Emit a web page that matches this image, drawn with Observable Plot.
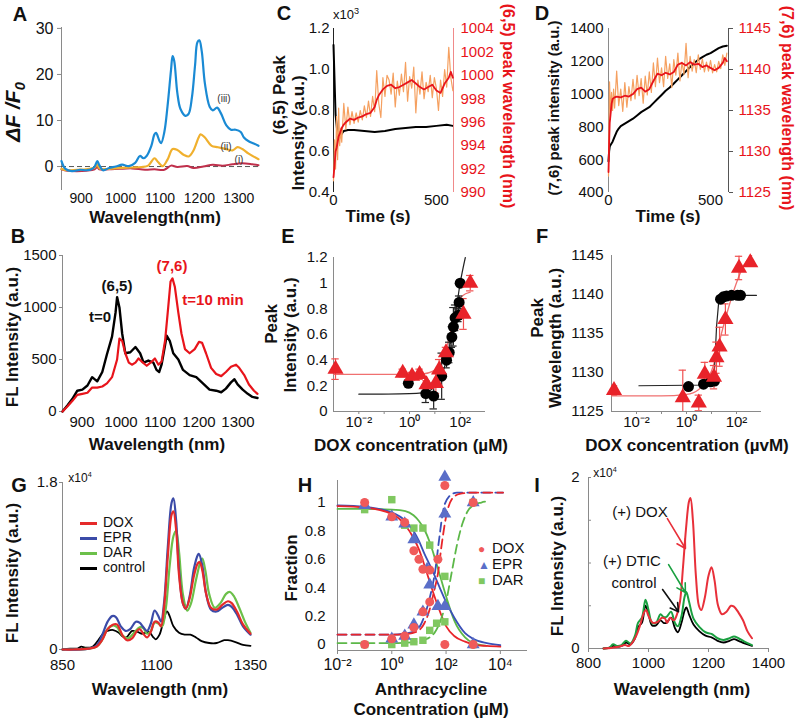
<!DOCTYPE html>
<html><head><meta charset="utf-8">
<script src="https://cdn.jsdelivr.net/npm/d3@7"></script>
<script src="https://cdn.jsdelivr.net/npm/@observablehq/plot@0.6"></script>
<style>
body{margin:0;background:#fff;}
#root{position:relative;width:800px;height:720px;overflow:hidden;font-family:"Liberation Sans",Arial,Helvetica,sans-serif;color:#111;}
.lbl{position:absolute;white-space:nowrap;line-height:1;}
</style></head><body><div id="root"></div>
<script>
// ---------------- DATA ----------------
// Panel A: ΔF/F0 spectra
const aWaveIII = [850,860,876,897,913,926,934,941,946,955,971,988,1004,1021,1037,1049,1058,1066,1078,1086,1090,1099,1103,1111,1119,1128,1132,1136,1144,1152,1165,1173,1181,1189,1195,1200,1206,1214,1226,1234,1245,1255,1268,1280,1292,1305,1313,1325,1338,1350];
const aIII = [1.2,-0.5,-1.0,-0.7,-0.8,-0.6,0,1.2,0.3,-0.8,-0.3,0,0.4,0.1,0.8,2.3,1.8,2.3,4.5,7,7.3,5.5,5.1,7.5,13,21,24,23,16,12.5,11,11.5,15,22,27,27.4,25,18,13,12.2,12.8,11.5,9,8,8,7.5,6.3,5.5,5,4.5];
const aWaveII = [850,864,889,913,934,941,946,971,996,1029,1053,1070,1086,1095,1107,1119,1132,1144,1161,1173,1185,1198,1203,1214,1231,1247,1268,1284,1297,1309,1325,1350];
const aII = [-0.5,-0.8,-0.7,-0.6,-0.2,0.5,-0.4,-0.5,-0.3,-0.2,-0.1,0.2,1.8,1.0,0.1,1.5,3.8,3.6,2.5,2.2,3.5,6.3,7.0,6.3,4.5,4.2,3.8,3.5,4.2,3.8,2.8,1.6];
const aWaveI = [850,864,889,913,934,941,946,971,996,1029,1062,1086,1111,1128,1144,1169,1185,1210,1234,1259,1284,1309,1334,1350];
const aI = [-0.6,-0.9,-1.0,-0.9,-0.6,-0.1,-0.6,-0.6,-0.5,-0.4,-0.7,-0.6,-0.7,0.2,-0.1,0.1,-0.3,0.0,0.4,0.2,0.5,0.7,0.5,0.3];

// Panel B: FL spectra t=0 and t=10 min
const bWave0 = [850,863,875,888,901,914,926,939,952,964,977,986,990,996,1003,1011,1024,1037,1049,1058,1070,1083,1091,1098,1104,1113,1117,1125,1134,1147,1159,1176,1193,1210,1227,1244,1257,1269,1282,1291,1299,1312,1325,1337,1350];
const bT0 = [0,60,120,200,210,250,330,290,380,550,720,950,1100,1000,750,560,570,620,560,470,490,470,400,380,450,640,730,680,560,500,400,350,330,270,210,200,185,220,280,310,260,210,170,140,130];
const bWave10 = [850,863,875,888,901,914,926,939,952,964,977,990,996,1003,1011,1020,1028,1037,1045,1053,1066,1079,1087,1096,1104,1113,1121,1127,1132,1138,1147,1155,1164,1176,1189,1200,1208,1218,1231,1244,1257,1269,1282,1295,1303,1316,1328,1341,1350];
const bT10 = [0,50,100,160,170,180,230,230,240,270,330,500,700,680,560,470,450,470,510,480,440,480,510,450,480,680,1000,1250,1280,1200,950,750,600,560,600,670,660,560,420,360,340,380,430,450,420,350,260,200,170];

// Panel C: (6,5) intensity (x10^3) and wavelength vs time
const cTimeI = [0,5,10,18,25,35,50,70,100,150,200,250,300,350,400,450,500,550,580];
const cIntensity = [1.12,0.95,0.78,0.70,0.66,0.68,0.70,0.705,0.705,0.70,0.695,0.70,0.71,0.715,0.72,0.72,0.725,0.73,0.725];
const cTimeW = [0,5,10,15,20,25,30,40,50,60,80,100,120,140,160,180,200,210,220,240,260,280,300,320,340,360,380,400,420,440,460,480,500,520,540,560,570,580];
const cWaveSmooth = [991.3,992.3,993.5,993.8,994.3,994.8,995.0,995.5,995.8,996.0,996.3,996.2,996.4,996.5,996.7,996.8,997.3,997.9,998.3,998.8,999.1,999.2,998.9,999.0,999.2,999.4,999.6,999.3,999.0,998.8,999.0,999.2,998.7,998.5,999.3,999.8,1000.3,999.8];
const cTimeRaw = [0,5,10,15,20,25,30,35,40,50,60,70,80,90,100,110,120,130,140,150,160,170,180,190,200,210,220,230,240,250,260,270,280,290,300,310,320,330,340,350,360,370,380,390,400,410,420,430,440,450,460,470,480,490,500,510,520,530,540,550,560,570,580];
const cWaveRaw = [991.0,994.5,992.0,996.5,992.8,997.2,994.0,995.5,994.3,997.6,995.4,997.3,995.8,996.9,995.9,996.8,996.0,997.0,996.2,997.4,996.4,997.8,996.5,998.2,996.9,1000.4,997.6,996.4,999.8,998.2,1000.0,999.6,998.4,1000.2,997.3,999.5,998.3,1000.1,998.6,1001.1,997.8,999.9,998.9,1000.7,996.8,999.6,998.4,1000.3,998.0,999.4,998.6,1000.0,998.1,999.8,998.9,997.0,999.6,998.2,1000.5,999.0,1002.4,999.8,998.7];

// Panel D: (7,6) intensity and wavelength vs time
const dTimeI = [0,3,6,10,20,30,40,50,60,80,100,120,140,160,180,200,220,240,260,280,300,320,340,360,380,400,420,440,460,480,500,520,540,560,580];
const dIntensity = [590,650,680,690,710,740,770,790,805,820,835,850,870,890,905,920,945,970,995,1020,1040,1065,1090,1115,1140,1165,1190,1210,1225,1240,1250,1265,1280,1290,1295];
const dTimeW = [0,3,6,10,15,20,30,40,60,80,100,120,140,160,180,200,220,240,260,280,300,320,340,360,380,400,420,440,460,480,500,520,540,560,570,580];
const dWaveSmooth = [1127.5,1131,1133.5,1134.5,1135.8,1136.4,1136.6,1136.7,1136.6,1136.8,1136.7,1137.0,1137.6,1137.8,1137.3,1137.6,1138.6,1139.5,1139.3,1139.6,1139.4,1139.7,1140.6,1140.8,1140.5,1140.9,1140.6,1140.7,1140.3,1140.5,1140.2,1139.9,1140.2,1140.8,1141.4,1141.0];
const dTimeRaw = [0,5,10,15,20,25,30,40,50,60,70,80,90,100,110,120,130,140,150,160,170,180,190,200,210,220,230,240,250,260,270,280,290,300,310,320,330,340,350,360,370,380,390,400,410,420,430,440,450,460,470,480,490,500,510,520,530,540,550,560,570,580];
const dWaveRaw = [1127,1138.5,1134.8,1137.2,1135.0,1137.6,1135.3,1139.8,1135.6,1137.6,1134.9,1138.4,1135.4,1137.9,1136.2,1138.8,1136.4,1139.3,1136.8,1138.9,1135.9,1139.2,1136.9,1139.7,1137.2,1140.8,1137.9,1141.4,1138.4,1140.2,1137.9,1141.6,1138.9,1140.7,1137.8,1141.2,1139.3,1142.0,1138.6,1140.9,1139.4,1143.2,1139.0,1141.6,1139.8,1141.2,1139.6,1141.8,1140.0,1141.3,1139.7,1140.9,1139.8,1141.1,1139.6,1140.6,1139.7,1141.0,1140.1,1141.8,1140.5,1142.0];

// Panel E: peak intensity vs DOX concentration
const eBlackConc = [0.9,4.4,9,18.6,29,37,47,54,63,85,91,100];
const eBlackVal = [0.22,0.14,0.12,0.275,0.40,0.46,0.58,0.66,0.73,0.75,0.85,1.0];
const eBlackErr = [0,0.07,0.1,0.18,0.06,0.08,0.08,0.15,0.1,0.05,0.05,0];
const eRedConc = [0.0012,0.54,1.26,2.5,4.7,11,14.8,27.5,135,250];
const eRedVal = [0.33,0.30,0.275,0.29,0.21,0.22,0.325,0.46,0.76,1.0];
const eRedErr = [0.08,0.03,0.03,0.04,0.03,0.08,0.08,0.04,0.12,0.06];
const eRedFitConc = [0.001,1,3,10,20,40,70,120,250];
const eRedFitVal = [0.29,0.29,0.292,0.32,0.41,0.60,0.80,0.90,0.93];
const eBlackFitConc = [0.01,1,3,6,10,20,40,70,100,160];
const eBlackFitVal = [0.135,0.14,0.145,0.16,0.20,0.30,0.52,0.80,1.0,1.2];

// Panel F: peak wavelength vs DOX concentration
const fBlackConc = [1.2,4.8,9.1,13.2,23,30,40,63,110,145];
const fBlackVal = [1128.2,1128.5,1128.8,1128.9,1139.4,1139.7,1139.8,1139.9,1139.9,1139.9];
const fRedConc = [0.00126,0.71,3.1,5.4,12.6,15.8,21,36,126,355];
const fRedVal = [1127.7,1126.8,1126.1,1129.8,1129.4,1131.9,1133.3,1136.8,1143.4,1144.1];
const fRedErr = [0.6,3.5,1.0,1.5,1.5,2.0,2.5,2.0,1.5,0];
const fRedFitConc = [0.001,0.1,1,3,6,10,15,25,50,100,200,400];
const fRedFitVal = [1127.0,1127.0,1127.2,1127.8,1128.8,1130.2,1132,1135,1138.5,1141.5,1143.8,1145];
const fBlackFitConc = [0.0125,10,13,16,20,30,630];
const fBlackFitVal = [1128.3,1128.4,1130,1136,1139.5,1139.9,1139.9];

// Panel G: FL spectra (x10^4) with anthracyclines
const gWaveDox = [850,880,920,940,955,970,985,995,1010,1022,1035,1048,1055,1065,1075,1085,1095,1105,1112,1120,1130,1140,1145,1152,1160,1170,1178,1188,1200,1210,1215,1222,1232,1245,1260,1275,1290,1300,1315,1330,1350];
const gDox = [0,0,0.01,0.03,0.1,0.22,0.27,0.27,0.15,0.1,0.12,0.2,0.22,0.17,0.13,0.19,0.3,0.29,0.25,0.45,1.0,1.45,1.49,1.3,0.8,0.5,0.44,0.55,0.8,0.93,0.94,0.85,0.6,0.45,0.43,0.48,0.52,0.5,0.4,0.27,0.17];
const gWaveEpr = [850,920,940,955,970,982,992,1005,1018,1030,1045,1055,1065,1075,1085,1095,1105,1112,1120,1130,1140,1145,1152,1160,1170,1178,1188,1200,1210,1213,1222,1232,1245,1260,1275,1290,1300,1315,1330,1350];
const gEpr = [0,0.01,0.04,0.15,0.3,0.36,0.35,0.25,0.2,0.22,0.3,0.29,0.24,0.2,0.28,0.42,0.36,0.3,0.5,1.1,1.58,1.63,1.4,0.85,0.5,0.44,0.57,0.88,1.02,1.03,0.9,0.6,0.43,0.41,0.45,0.48,0.46,0.37,0.25,0.16];
const gWaveDar = [850,920,940,955,970,985,995,1010,1025,1040,1055,1065,1075,1085,1095,1105,1115,1125,1135,1145,1152,1160,1170,1182,1192,1205,1218,1222,1230,1240,1255,1270,1285,1295,1305,1320,1335,1350];
const gDar = [0,0.01,0.03,0.1,0.22,0.26,0.24,0.15,0.12,0.18,0.24,0.23,0.17,0.2,0.29,0.28,0.25,0.45,0.9,1.22,1.28,1.05,0.6,0.42,0.5,0.75,0.96,0.98,0.85,0.6,0.45,0.5,0.6,0.62,0.58,0.45,0.3,0.18];
const gWaveCtl = [850,870,890,900,910,930,945,958,970,985,1000,1010,1020,1035,1050,1060,1070,1080,1090,1098,1108,1118,1128,1135,1145,1160,1175,1190,1205,1220,1240,1260,1280,1290,1310,1330,1350];
const gCtl = [0,0.01,0.01,0.03,0.02,0.03,0.1,0.17,0.2,0.21,0.18,0.14,0.13,0.2,0.19,0.17,0.18,0.19,0.14,0.11,0.16,0.3,0.41,0.36,0.25,0.18,0.16,0.16,0.13,0.09,0.07,0.07,0.1,0.1,0.08,0.05,0.04];
const gSeries = ["DOX","EPR","DAR","control"];

// Panel H: fraction vs anthracycline concentration
const hDox = [[0.1,1.0],[0.1,0.0],[1,0.9],[1,0.04],[3,0.86],[3,0.06],[6.5,0.66],[6.5,0.12],[10,0.6],[14,0.53],[14,0.23],[25,0.3],[25,0.525],[50,0.6],[90,0.0],[90,1.12],[1000,1.0],[1000,0.0]];
const hEpr = [[0.1,0.98],[1,0.9],[1,0.04],[3,0.85],[3,0.06],[6.5,0.74],[6.5,0.14],[14,0.23],[20,0.53],[25,0.42],[50,0.27],[90,0.27],[90,0.92],[90,1.18],[1000,1.0],[1000,0.0]];
const hDar = [[0.1,0.95],[0.1,0.0],[1,1.02],[1,0.0],[3,0.84],[3,0.01],[6.5,0.82],[6.5,0.02],[14,0.82],[14,0.03],[25,0.70],[25,0.1],[45,0.15],[90,0.48],[90,0.16],[1000,1.0],[1000,0.0]];
const hDoxFitLx = [-2,-1,0,0.5,0.8,1,1.2,1.3,1.5,1.7,2,2.3,2.7,3,3.5,4];
const hDoxFit = [0.975,0.965,0.92,0.84,0.75,0.67,0.56,0.5,0.38,0.27,0.13,0.06,0.02,0.0,-0.01,-0.015];
const hEprFitLx = [-2,-1,0,0.5,0.8,1,1.2,1.5,1.7,2,2.3,2.7,3,3.5,4];
const hEprFit = [0.98,0.97,0.93,0.87,0.8,0.73,0.64,0.52,0.43,0.3,0.19,0.08,0.04,0.01,-0.005];
const hDarFitLx = [-2,-1,0,0.5,0.8,1,1.2,1.4,1.6,1.8,2,2.3,2.7,3,3.5];
const hDarFit = [0.955,0.955,0.95,0.94,0.91,0.87,0.81,0.72,0.6,0.47,0.34,0.17,0.05,0.01,-0.01];
const hDoxDashLx = [-2,0,0.6,1,1.2,1.4,1.55,1.7,1.85,2,2.2,2.5,3,4.1];
const hDoxDash = [0.07,0.07,0.075,0.1,0.15,0.25,0.37,0.5,0.72,0.9,1.02,1.06,1.07,1.07];
const hEprDashLx = [-2,0,0.6,1,1.2,1.4,1.6,1.75,1.9,2.1,2.4,3,4.1];
const hEprDash = [0.07,0.07,0.08,0.12,0.2,0.33,0.52,0.75,0.95,1.04,1.07,1.07,1.07];
const hDarDashLx = [-2,0,1,1.3,1.6,1.8,2.0,2.2,2.4,2.6,2.8,3.0,3.3,3.6];
const hDarDash = [0.01,0.01,0.02,0.04,0.09,0.17,0.3,0.5,0.7,0.85,0.94,0.98,1.0,1.01];

// Panel I: FL spectra (x10^4) with DOX / DTIC
const iWaveDox = [850,880,900,922,935,955,970,985,992,1000,1015,1030,1045,1055,1062,1072,1085,1095,1105,1115,1125,1135,1140,1148,1158,1168,1176,1188,1200,1210,1220,1232,1245,1260,1275,1285,1300,1315,1330,1345];
const iDox = [0,0.01,0.02,0.04,0.03,0.12,0.25,0.42,0.45,0.38,0.3,0.31,0.36,0.35,0.3,0.36,0.33,0.4,0.55,0.95,1.4,1.72,1.76,1.5,0.85,0.5,0.45,0.6,0.85,0.95,0.8,0.5,0.4,0.43,0.5,0.49,0.42,0.33,0.2,0.12];
const iWaveOther = [850,870,882,895,910,925,940,955,965,978,990,1000,1012,1025,1040,1050,1060,1075,1088,1098,1110,1120,1126,1135,1150,1170,1190,1210,1230,1250,1270,1285,1300,1320,1345];
const iDtic = [0,0.01,0.05,0.03,0.04,0.09,0.06,0.15,0.3,0.36,0.57,0.45,0.3,0.3,0.4,0.37,0.37,0.43,0.3,0.26,0.38,0.6,0.66,0.55,0.35,0.25,0.19,0.17,0.12,0.1,0.12,0.14,0.12,0.08,0.04];
const iCtl = [0,0.01,0.03,0.02,0.03,0.07,0.05,0.12,0.25,0.3,0.5,0.4,0.27,0.27,0.33,0.3,0.3,0.36,0.24,0.19,0.3,0.44,0.48,0.4,0.28,0.2,0.15,0.13,0.09,0.07,0.09,0.11,0.09,0.06,0.03];
const iArrows = [
  {x1:1063,y1:1.52,x2:1123,y2:1.17,c:"#e8303a"},
  {x1:1067,y1:0.98,x2:1123,y2:0.655,c:"#1aa040"},
  {x1:1047,y1:0.69,x2:1100,y2:0.43,c:"#111"}
];

// ---------------- HELPERS ----------------
const FONT = '"Liberation Sans", Arial, Helvetica, sans-serif';
const root = document.getElementById("root");
const pts = (xs, ys) => xs.map((x, i) => ({x, y: ys[i]}));
const errPts = (xs, ys, es) => xs.map((x, i) => ({x, y: ys[i], e: es[i]})).filter(d => d.e > 0);
const SUP = {"-":"⁻","0":"⁰","1":"¹","2":"²","3":"³","4":"⁴"};
const pow10 = d => "10" + String(Math.round(Math.log10(d))).split("").map(c => SUP[c]).join("");
const dec = d => String(+d.toFixed(1));
const num = d => String(d);

function addPlot(f, opts) {
  const m = 50;
  const svg = Plot.plot({
    width: f.x1 - f.x0 + 2 * m, height: f.y1 - f.y0 + 2 * m,
    marginLeft: m, marginRight: m, marginTop: m, marginBottom: m,
    style: {fontFamily: FONT, fontSize: "15px", color: "#111", background: "none", overflow: "visible"},
    ...opts
  });
  Object.assign(svg.style, {position: "absolute", left: (f.x0 - m) + "px", top: (f.y0 - m) + "px", maxWidth: "none"});
  root.appendChild(svg);
  return svg;
}
function L(html, x, y, o = {}) {
  const d = document.createElement("div");
  d.className = "lbl";
  d.innerHTML = html;
  const ax = o.anchor === "start" ? "0" : "-50%";
  d.style.left = x + "px";
  d.style.top = y + "px";
  d.style.fontSize = (o.size || 17) + "px";
  d.style.fontWeight = o.weight || "bold";
  if (o.color) d.style.color = o.color;
  if (o.italic) d.style.fontStyle = "italic";
  d.style.transform = `translate(${ax},-50%)` + (o.rot ? ` rotate(${o.rot}deg)` : "");
  root.appendChild(d);
}
const AX = "#8a8a8a";

// ---------------- PANEL A ----------------
addPlot({x0: 61, x1: 258, y0: 27, y1: 190}, {
  x: {domain: [850, 1350]}, y: {domain: [-5.2, 30.2]},
  marks: [
    Plot.ruleX([850], {stroke: AX}),
    Plot.axisY({ticks: [0, 10, 20, 30], tickFormat: num, tickSize: 4, tickPadding: 4, stroke: AX, fontSize: 16, label: null}),
    Plot.axisX({ticks: [900, 1000, 1100, 1200, 1300], tickFormat: num, tickSize: 0, tickPadding: 3, fontSize: 14, label: null}),
    Plot.ruleY([0], {stroke: "#555", strokeDasharray: "5,3", strokeWidth: 1}),
    Plot.line(pts(aWaveI, aI), {x: "x", y: "y", stroke: "#c0304c", strokeWidth: 2, curve: "catmull-rom"}),
    Plot.line(pts(aWaveII, aII), {x: "x", y: "y", stroke: "#f0b02e", strokeWidth: 2.2, curve: "catmull-rom"}),
    Plot.line(pts(aWaveIII, aIII), {x: "x", y: "y", stroke: "#1a8ad4", strokeWidth: 2.2, curve: "catmull-rom"})
  ]
});

// ---------------- PANEL B ----------------
addPlot({x0: 62, x1: 257, y0: 255, y1: 411}, {
  x: {domain: [850, 1350]}, y: {domain: [0, 1500]},
  marks: [
    Plot.ruleX([850], {stroke: AX}),
    Plot.axisY({ticks: [0, 500, 1000, 1500], tickFormat: num, tickSize: 3, tickPadding: 3, stroke: AX, label: null}),
    Plot.axisX({ticks: [900, 1000, 1100, 1200, 1300], tickFormat: num, tickSize: 0, tickPadding: 5, label: null}),
    Plot.line(pts(bWave0, bT0), {x: "x", y: "y", stroke: "#000", strokeWidth: 2.4}),
    Plot.line(pts(bWave10, bT10), {x: "x", y: "y", stroke: "#e8141b", strokeWidth: 2.2})
  ]
});

// ---------------- PANEL C ----------------
const fC = {x0: 333, x1: 453, y0: 28, y1: 192};
addPlot(fC, {
  x: {domain: [0, 583]}, y: {domain: [0.4, 1.2]},
  marks: [
    Plot.ruleX([0], {stroke: "#222"}),
    Plot.axisY({ticks: [0.4, 0.6, 0.8, 1.0, 1.2], tickFormat: d => d.toFixed(1), tickSize: 0, tickPadding: 4, label: null}),
    Plot.axisX({ticks: [0, 500], tickFormat: num, tickSize: 0, tickPadding: 2, label: null}),
    Plot.line(pts(cTimeI, cIntensity), {x: "x", y: "y", stroke: "#000", strokeWidth: 2})
  ]
});
addPlot(fC, {
  x: {domain: [0, 583], axis: null}, y: {domain: [990, 1004]},
  marks: [
    Plot.ruleX([583], {stroke: "#f08a8a"}),
    Plot.axisY({anchor: "right", ticks: [990, 992, 994, 996, 998, 1000, 1002, 1004], tickFormat: num, tickSize: 0, tickPadding: 7, fill: "#e8141b", label: null}),
    Plot.line(pts(cTimeRaw, cWaveRaw), {x: "x", y: "y", stroke: "#f5a060", strokeWidth: 1.2}),
    Plot.line(pts(cTimeW, cWaveSmooth), {x: "x", y: "y", stroke: "#e8141b", strokeWidth: 1.8})
  ]
});

// ---------------- PANEL D ----------------
const fD = {x0: 608, x1: 728, y0: 28, y1: 192};
addPlot(fD, {
  x: {domain: [0, 588]}, y: {domain: [400, 1400]},
  marks: [
    Plot.ruleX([0], {stroke: AX}),
    Plot.axisY({ticks: [400, 600, 800, 1000, 1200, 1400], tickFormat: num, tickSize: 0, tickPadding: 5, label: null}),
    Plot.axisX({ticks: [0, 500], tickFormat: num, tickSize: 0, tickPadding: 2, label: null}),
    Plot.line(pts(dTimeI, dIntensity), {x: "x", y: "y", stroke: "#000", strokeWidth: 2})
  ]
});
addPlot(fD, {
  x: {domain: [0, 588], axis: null}, y: {domain: [1125, 1145]},
  marks: [
    Plot.ruleX([588], {stroke: "#555"}),
    Plot.axisY({anchor: "right", ticks: [1125, 1130, 1135, 1140, 1145], tickFormat: num, tickSize: 4, tickPadding: 6, stroke: "#555", fill: "#e8141b", label: null}),
    Plot.line(pts(dTimeRaw, dWaveRaw), {x: "x", y: "y", stroke: "#f5a060", strokeWidth: 1.2}),
    Plot.line(pts(dTimeW, dWaveSmooth), {x: "x", y: "y", stroke: "#e8141b", strokeWidth: 1.8})
  ]
});

// ---------------- PANEL E ----------------
const decades = [1e-2, 1e-1, 1, 1e1, 1e2];
const eBlackE = errPts(eBlackConc, eBlackVal, eBlackErr);
const eRedE = errPts(eRedConc, eRedVal, eRedErr);
const capMarks = (data, color, clip) => [
  Plot.ruleX(data, {x: "x", y1: d => d.y - d.e, y2: d => d.y + d.e, stroke: color, strokeWidth: 1.2, clip}),
  Plot.ruleY(data, {y: d => d.y + d.e, x1: d => d.x / 1.4, x2: d => d.x * 1.4, stroke: color, strokeWidth: 1.2, clip}),
  Plot.ruleY(data, {y: d => d.y - d.e, x1: d => d.x / 1.4, x2: d => d.x * 1.4, stroke: color, strokeWidth: 1.2, clip})
];
addPlot({x0: 333, x1: 485, y0: 257, y1: 411}, {
  x: {type: "log", domain: [1e-3, 1e3]}, y: {domain: [0, 1.2]},
  marks: [
    Plot.ruleX([1e-3], {stroke: AX}),
    Plot.ruleY([0], {stroke: AX}),
    Plot.axisY({ticks: [0, 0.2, 0.4, 0.6, 0.8, 1, 1.2], tickFormat: dec, tickSize: 0, tickPadding: 6, label: null}),
    Plot.axisX({ticks: decades, tickFormat: () => "", tickSize: 3, stroke: AX, label: null}),
    Plot.axisX({ticks: [1e-2, 1, 1e2], tickFormat: pow10, tickSize: 0, tickPadding: 5, fontSize: 15, label: null}),
    Plot.line(pts(eRedFitConc, eRedFitVal), {x: "x", y: "y", stroke: "#f07070", strokeWidth: 1.3, curve: "monotone-x"}),
    Plot.line(pts(eBlackFitConc, eBlackFitVal), {x: "x", y: "y", stroke: "#222", strokeWidth: 1.2, curve: "monotone-x"}),
    ...capMarks(eBlackE, "#222"),
    ...capMarks(eRedE, "#f05050"),
    Plot.dot(pts(eBlackConc, eBlackVal), {x: "x", y: "y", r: 5.5, fill: "#000"}),
    Plot.dot(pts(eRedConc, eRedVal), {x: "x", y: "y", r: 6, symbol: "triangle", fill: "#e8232a"})
  ]
});

// ---------------- PANEL F ----------------
const fRedE = errPts(fRedConc, fRedVal, fRedErr);
addPlot({x0: 611, x1: 761, y0: 255, y1: 411}, {
  x: {type: "log", domain: [1e-3, 1e3]}, y: {domain: [1125, 1145]},
  marks: [
    Plot.ruleX([1e-3], {stroke: AX}),
    Plot.ruleY([1125], {stroke: AX}),
    Plot.axisY({ticks: [1125, 1130, 1135, 1140, 1145], tickFormat: num, tickSize: 0, tickPadding: 8, label: null}),
    Plot.axisX({ticks: decades, tickFormat: () => "", tickSize: 3, stroke: AX, label: null}),
    Plot.axisX({ticks: [1e-2, 1, 1e2], tickFormat: pow10, tickSize: 0, tickPadding: 5, fontSize: 15, label: null}),
    Plot.line(pts(fRedFitConc, fRedFitVal), {x: "x", y: "y", stroke: "#f07070", strokeWidth: 1.3, curve: "monotone-x", clip: true}),
    Plot.line(pts(fBlackFitConc, fBlackFitVal), {x: "x", y: "y", stroke: "#222", strokeWidth: 1.2}),
    ...capMarks(fRedE, "#f05050", true),
    Plot.dot(pts(fBlackConc, fBlackVal), {x: "x", y: "y", r: 5.5, fill: "#000"}),
    Plot.dot(pts(fRedConc, fRedVal), {x: "x", y: "y", r: 6, symbol: "triangle", fill: "#e8232a"})
  ]
});

// ---------------- PANEL G ----------------
const gColors = {DOX: "#e52a2a", EPR: "#3b4ba8", DAR: "#6cc04a", control: "#000"};
addPlot({x0: 62, x1: 250, y0: 482, y1: 649}, {
  x: {domain: [850, 1350]}, y: {domain: [0, 1.8]},
  marks: [
    Plot.ruleX([850], {stroke: AX}),
    Plot.axisY({ticks: [0, 1.8], tickFormat: dec, tickSize: 3, tickPadding: 2, stroke: AX, label: null}),
    Plot.axisX({ticks: [850, 1100, 1350], tickFormat: num, tickSize: 0, tickPadding: 10, label: null}),
    Plot.line(pts(gWaveCtl, gCtl), {x: "x", y: "y", stroke: gColors.control, strokeWidth: 1.8, curve: "catmull-rom"}),
    Plot.line(pts(gWaveDar, gDar), {x: "x", y: "y", stroke: gColors.DAR, strokeWidth: 2.2, curve: "catmull-rom"}),
    Plot.line(pts(gWaveEpr, gEpr), {x: "x", y: "y", stroke: gColors.EPR, strokeWidth: 2.2, curve: "catmull-rom"}),
    Plot.line(pts(gWaveDox, gDox), {x: "x", y: "y", stroke: gColors.DOX, strokeWidth: 2.2, curve: "catmull-rom"})
  ]
});

// ---------------- PANEL H ----------------
const lpts = (lx, ys) => lx.map((v, i) => ({x: Math.pow(10, v), y: ys[i]}));
const hc = {DOX: "#f05a5a", EPR: "#5a6ec8", DAR: "#80c860"};
const dash = "9,5";
addPlot({x0: 337, x1: 527, y0: 480, y1: 650}, {
  x: {type: "log", domain: [1e-2, 1e5]}, y: {domain: [-0.042, 1.155]},
  marks: [
    Plot.ruleX([1e-2], {stroke: AX}),
    Plot.ruleY([-0.042], {stroke: AX}),
    Plot.axisY({ticks: [0, 0.2, 0.4, 0.6, 0.8, 1], tickFormat: dec, tickSize: 0, tickPadding: 12, label: null}),
    Plot.axisX({ticks: [1e-2, 1, 1e2, 1e4], tickFormat: pow10, tickSize: 4, tickPadding: 4, stroke: AX, fontSize: 16, label: null}),
    Plot.line(lpts(hDarFitLx, hDarFit), {x: "x", y: "y", stroke: "#5cb848", strokeWidth: 1.8, curve: "monotone-x"}),
    Plot.line(lpts(hEprFitLx, hEprFit), {x: "x", y: "y", stroke: "#3a50b8", strokeWidth: 1.8, curve: "monotone-x"}),
    Plot.line(lpts(hDoxFitLx, hDoxFit), {x: "x", y: "y", stroke: "#e8252a", strokeWidth: 1.8, curve: "monotone-x"}),
    Plot.line(lpts(hDarDashLx, hDarDash), {x: "x", y: "y", stroke: "#5cb848", strokeWidth: 1.8, strokeDasharray: dash, curve: "monotone-x"}),
    Plot.line(lpts(hEprDashLx, hEprDash), {x: "x", y: "y", stroke: "#3a50b8", strokeWidth: 1.8, strokeDasharray: dash, curve: "monotone-x"}),
    Plot.line(lpts(hDoxDashLx, hDoxDash), {x: "x", y: "y", stroke: "#e8252a", strokeWidth: 1.8, strokeDasharray: dash, curve: "monotone-x"}),
    Plot.dot(hDar, {x: d => d[0], y: d => d[1], symbol: "square", r: 4.2, fill: hc.DAR}),
    Plot.dot(hEpr, {x: d => d[0], y: d => d[1], symbol: "triangle", r: 4.8, fill: hc.EPR}),
    Plot.dot(hDox, {x: d => d[0], y: d => d[1], r: 4.5, fill: hc.DOX})
  ]
});

// ---------------- PANEL I ----------------
addPlot({x0: 588, x1: 768, y0: 477, y1: 648}, {
  x: {domain: [800, 1400]}, y: {domain: [0, 2]},
  marks: [
    Plot.ruleX([800], {stroke: AX}),
    Plot.ruleY([0], {stroke: AX}),
    Plot.axisY({ticks: [0, 0.5, 1, 1.5, 2], tickFormat: d => (d === 0 || d === 2) ? String(d) : "", tickSize: -3, tickPadding: 12, stroke: AX, label: null}),
    Plot.axisX({ticks: [800, 1000, 1200, 1400], tickFormat: num, tickSize: 4, tickPadding: 5, stroke: AX, label: null}),
    Plot.line(pts(iWaveOther, iCtl), {x: "x", y: "y", stroke: "#000", strokeWidth: 1.8, curve: "catmull-rom"}),
    Plot.line(pts(iWaveOther, iDtic), {x: "x", y: "y", stroke: "#1aa040", strokeWidth: 2, curve: "catmull-rom"}),
    Plot.line(pts(iWaveDox, iDox), {x: "x", y: "y", stroke: "#e8303a", strokeWidth: 2, curve: "catmull-rom"}),
    Plot.arrow(iArrows, {x1: "x1", y1: "y1", x2: "x2", y2: "y2", stroke: "c", strokeWidth: 1.6, headLength: 9})
  ]
});

// ---------------- TEXT LABELS ----------------
const letters = [["A", 20, 14], ["B", 18, 236], ["C", 284, 13], ["D", 542, 13], ["E", 288, 236], ["F", 542, 236], ["G", 19, 485], ["H", 305, 485], ["I", 537, 485]];
letters.forEach(([t, x, y]) => L(t, x, y, {size: 20}));

// A
L("ΔF /F<sub style='font-size:70%'>0</sub>", 15, 112, {size: 21, italic: true, rot: -90});
L("Wavelength(nm)", 155, 217, {size: 17});
L("(iii)", 224, 99, {size: 10, weight: "normal", color: "#333"});
L("(ii)", 226, 147, {size: 10, weight: "normal", color: "#333"});
L("(i)", 239, 160, {size: 10, weight: "normal", color: "#333"});
// B
L("FL Intensity (a.u.)", 12, 337, {size: 17, rot: -90});
L("Wavelength (nm)", 157, 444, {size: 17});
L("(6,5)", 117, 285, {size: 15});
L("(7,6)", 172, 265, {size: 15, color: "#e8141b"});
L("t=0", 100, 316, {size: 15});
L("t=10 min", 213, 299, {size: 15, color: "#e8141b"});
// C
L("x10<sup style='font-size:70%'>3</sup>", 346, 14, {size: 13, weight: "normal"});
L("(6,5) Peak", 279, 95, {size: 17, rot: -90});
L("Intensity (a.u.)", 298, 133, {size: 17, rot: -90});
L("(6,5) peak wavelength (nm)", 508, 106, {size: 16, rot: 90, color: "#e8141b"});
L("Time (s)", 378, 216, {size: 17});
// D
L("(7,6) peak intensity (a.u.)", 553, 108, {size: 15, rot: -90});
L("(7,6) peak wavelength (nm)", 787, 108, {size: 16, rot: 90, color: "#e8141b"});
L("Time (s)", 668, 216, {size: 17});
// E
L("Peak", 271, 324, {size: 17, rot: -90});
L("Intensity (a.u.)", 290, 335, {size: 17, rot: -90});
L("DOX concentration (µM)", 411, 445, {size: 17});
// F
L("Peak", 537, 318, {size: 17, rot: -90});
L("Wavelength (a.u.)", 555, 338, {size: 17, rot: -90});
L("DOX concentration (µvM)", 687, 445, {size: 17});
// G
L("x10<sup style='font-size:60%'>4</sup>", 80, 477, {size: 12, weight: "normal"});
L("FL Intensity (a.u.)", 12, 573, {size: 17, rot: -90});
L("Wavelength (nm)", 160, 689, {size: 17});
const gRowY = [522, 537, 552, 567];
gSeries.forEach((s, i) => L(`<span style="display:inline-block;width:17px;height:3px;background:${gColors[s]};vertical-align:middle;margin-right:6px"></span>${s}`, 80, gRowY[i], {size: 14, weight: "normal", anchor: "start"}));
// H
L("Fraction", 291, 568, {size: 17, rot: -90});
L("Anthracycline", 431, 689, {size: 17});
L("Concentration (µM)", 431, 709, {size: 17});
const hLegend = [["DOX", "●", hc.DOX, 547], ["EPR", "▲", hc.EPR, 563], ["DAR", "■", hc.DAR, 579]];
hLegend.forEach(([t, s, c, y]) => L(`<span style="color:${c};font-size:12px;display:inline-block;width:14px">${s}</span>${t}`, 478, y, {size: 15, weight: "normal", anchor: "start"}));
// I
L("x10<sup style='font-size:60%'>4</sup>", 605, 472, {size: 12, weight: "normal"});
L("FL Intensity (a.u.)", 557, 566, {size: 17, rot: -90});
L("Wavelength (nm)", 682, 689, {size: 17});
L("(+) DOX", 640, 511, {size: 15, weight: "normal"});
L("(+) DTIC", 632, 560, {size: 15, weight: "normal"});
L("control", 634, 582, {size: 15, weight: "normal"});
</script></body></html>
